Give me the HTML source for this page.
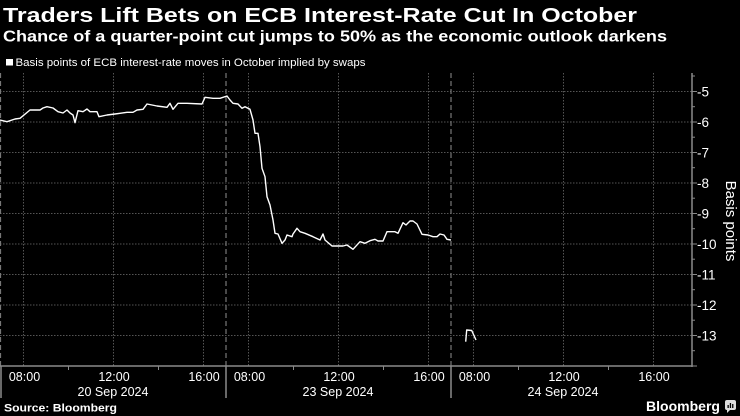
<!DOCTYPE html>
<html>
<head>
<meta charset="utf-8">
<style>
  html,body{margin:0;padding:0;background:#000;}
  body{width:740px;height:416px;overflow:hidden;}
  svg{display:block;}
  text{font-family:"Liberation Sans","DejaVu Sans",sans-serif;fill:#fff;}
</style>
</head>
<body>
<svg width="740" height="416" viewBox="0 0 740 416" xmlns="http://www.w3.org/2000/svg">
  <rect x="0" y="0" width="740" height="416" fill="#000"/>

  <!-- Titles -->
  <text x="3" y="22" font-size="20.5" font-weight="bold" textLength="634" lengthAdjust="spacingAndGlyphs">Traders Lift Bets on ECB Interest-Rate Cut In October</text>
  <text x="3" y="41.5" font-size="15.5" font-weight="bold" textLength="664" lengthAdjust="spacingAndGlyphs">Chance of a quarter-point cut jumps to 50% as the economic outlook darkens</text>

  <!-- Legend -->
  <rect x="6" y="59" width="7" height="6.5" fill="#fff"/>
  <text x="15.5" y="66" font-size="11" textLength="350" lengthAdjust="spacingAndGlyphs">Basis points of ECB interest-rate moves in October implied by swaps</text>

  <!-- Horizontal gridlines -->
  <g stroke="#555" stroke-width="1" stroke-dasharray="1.5,1.5">
    <line x1="0" y1="91.5" x2="692" y2="91.5"/>
    <line x1="0" y1="122" x2="692" y2="122"/>
    <line x1="0" y1="152.5" x2="692" y2="152.5"/>
    <line x1="0" y1="183" x2="692" y2="183"/>
    <line x1="0" y1="213.5" x2="692" y2="213.5"/>
    <line x1="0" y1="244" x2="692" y2="244"/>
    <line x1="0" y1="274.5" x2="692" y2="274.5"/>
    <line x1="0" y1="305" x2="692" y2="305"/>
    <line x1="0" y1="335.5" x2="692" y2="335.5"/>
  </g>

  <!-- Vertical gridlines -->
  <g stroke="#555" stroke-width="1" stroke-dasharray="1.5,1.5">
    <line x1="23.5" y1="73" x2="23.5" y2="366"/>
    <line x1="113.5" y1="73" x2="113.5" y2="366"/>
    <line x1="203.5" y1="73" x2="203.5" y2="366"/>
    <line x1="248.5" y1="73" x2="248.5" y2="366"/>
    <line x1="338.5" y1="73" x2="338.5" y2="366"/>
    <line x1="428.5" y1="73" x2="428.5" y2="366"/>
    <line x1="473.5" y1="73" x2="473.5" y2="366"/>
    <line x1="563.5" y1="73" x2="563.5" y2="366"/>
    <line x1="653.5" y1="73" x2="653.5" y2="366"/>
  </g>

  <!-- Day separators (dashed) -->
  <g stroke="#777" stroke-width="1.2" stroke-dasharray="5,3">
    <line x1="0.5" y1="73" x2="0.5" y2="366"/>
    <line x1="226" y1="73" x2="226" y2="366"/>
    <line x1="451" y1="73" x2="451" y2="366"/>
  </g>

  <!-- X axis -->
  <line x1="0" y1="366" x2="692" y2="366" stroke="#8a8a8a" stroke-width="1.5"/>
  <g stroke="#8a8a8a" stroke-width="1">
    <line x1="68.5" y1="366" x2="68.5" y2="370"/>
    <line x1="158.5" y1="366" x2="158.5" y2="370"/>
    <line x1="293.5" y1="366" x2="293.5" y2="370"/>
    <line x1="383.5" y1="366" x2="383.5" y2="370"/>
    <line x1="518.5" y1="366" x2="518.5" y2="370"/>
    <line x1="608.5" y1="366" x2="608.5" y2="370"/>
  </g>
  <g stroke="#8a8a8a" stroke-width="1.5">
    <line x1="1" y1="366" x2="1" y2="398"/>
    <line x1="226" y1="366" x2="226" y2="398"/>
    <line x1="451" y1="366" x2="451" y2="398"/>
  </g>

  <!-- X labels -->
  <g font-size="12.5" text-anchor="middle">
    <text x="24.5" y="381">08:00</text>
    <text x="114" y="381">12:00</text>
    <text x="204" y="381">16:00</text>
    <text x="249.5" y="381">08:00</text>
    <text x="339" y="381">12:00</text>
    <text x="429" y="381">16:00</text>
    <text x="474.5" y="381">08:00</text>
    <text x="564" y="381">12:00</text>
    <text x="654" y="381">16:00</text>
    <text x="113" y="396">20 Sep 2024</text>
    <text x="338" y="396">23 Sep 2024</text>
    <text x="563" y="396">24 Sep 2024</text>
  </g>

  <!-- Y axis -->
  <line x1="692" y1="73" x2="692" y2="367" stroke="#8a8a8a" stroke-width="1.5"/>
  <g stroke="#8a8a8a" stroke-width="1">
    <line x1="692" y1="91.5" x2="697" y2="91.5"/>
    <line x1="692" y1="122" x2="697" y2="122"/>
    <line x1="692" y1="152.5" x2="697" y2="152.5"/>
    <line x1="692" y1="183" x2="697" y2="183"/>
    <line x1="692" y1="213.5" x2="697" y2="213.5"/>
    <line x1="692" y1="244" x2="697" y2="244"/>
    <line x1="692" y1="274.5" x2="697" y2="274.5"/>
    <line x1="692" y1="305" x2="697" y2="305"/>
    <line x1="692" y1="335.5" x2="697" y2="335.5"/>
    <line x1="692" y1="366" x2="697" y2="366"/>
    <line x1="692" y1="76" x2="695" y2="76"/>
    <line x1="692" y1="106.7" x2="695" y2="106.7"/>
    <line x1="692" y1="137.2" x2="695" y2="137.2"/>
    <line x1="692" y1="167.7" x2="695" y2="167.7"/>
    <line x1="692" y1="198.2" x2="695" y2="198.2"/>
    <line x1="692" y1="228.7" x2="695" y2="228.7"/>
    <line x1="692" y1="259.2" x2="695" y2="259.2"/>
    <line x1="692" y1="289.7" x2="695" y2="289.7"/>
    <line x1="692" y1="320.2" x2="695" y2="320.2"/>
    <line x1="692" y1="350.7" x2="695" y2="350.7"/>
  </g>
  <g font-size="13.5">
    <text x="697" y="96.5">-5</text>
    <text x="697" y="127">-6</text>
    <text x="697" y="157.5">-7</text>
    <text x="697" y="188">-8</text>
    <text x="697" y="218.5">-9</text>
    <text x="697" y="249">-10</text>
    <text x="697" y="279.5">-11</text>
    <text x="697" y="310">-12</text>
    <text x="697" y="340.5">-13</text>
  </g>
  <text x="0" y="0" font-size="15" text-anchor="middle" transform="translate(726,221) rotate(90)">Basis points</text>

  <!-- Series -->
  <polyline fill="none" stroke="#fff" stroke-width="1.4" stroke-linejoin="round" points="
    0,120 7,121.7 15,119 20,118.3 30,110 40,110 43,108 47,106.7 53,108 58,111.7 63,113 67,110 70,113 73,115 75,122.7 78,110.7 83,111.7 87,109 90,111.7 97,111.7 99,116.7 107,115 115,114 120,113.3 127,112.3 133,112.3 137,110 143,109.3 147,104 157,106 167,107.3 170,103.3 173,109.3 178,103.3 187,103.3 202,104 205,97.3 213,98.3 220,98.3 227,96 230,100 233,103.3 238,104 242,108.3 245,106.7 250,109.3 253,120 255,133.3 258,133.3 260,146.7 262,168.3 265,176.7 267,196.7 270,205 273,220 275,233.3 278,234 282,243.3 285,240 287,235 292,236.7 293,234 297,228.3 300,231.7 305,233.3 313,236.7 320,240 323,234 325,240 332,246 343,246 347,245 353,249.3 360,241.7 365,243.3 370,240.7 375,239.3 378,241 383,241 387,231.7 395,231.7 398,233.3 403,222.7 406,225 410,221 413,221 417,224 422,234.3 428,235 433,236.7 437,236.7 440,234 444,235 447,239.3 451,240"/>
  <polyline fill="none" stroke="#fff" stroke-width="1.4" stroke-linejoin="round" points="465.7,341.7 466.7,330 471.7,330.5 476,340"/>

  <!-- Footer -->
  <text x="4" y="411.5" font-size="11" font-weight="bold" textLength="113" lengthAdjust="spacingAndGlyphs">Source: Bloomberg</text>
  <text x="646" y="411" font-size="14" font-weight="bold" textLength="74" lengthAdjust="spacingAndGlyphs">Bloomberg</text>
  <g>
    <rect x="725" y="400" width="11" height="10" rx="2" fill="#ddd"/>
    <polygon points="727,410 730,410 727,413" fill="#ddd"/>
    <rect x="727.5" y="405" width="1.3" height="3" fill="#000"/>
    <rect x="729.8" y="403" width="1.3" height="5" fill="#000"/>
    <rect x="732.1" y="404" width="1.3" height="4" fill="#000"/>
  </g>
</svg>
</body>
</html>
